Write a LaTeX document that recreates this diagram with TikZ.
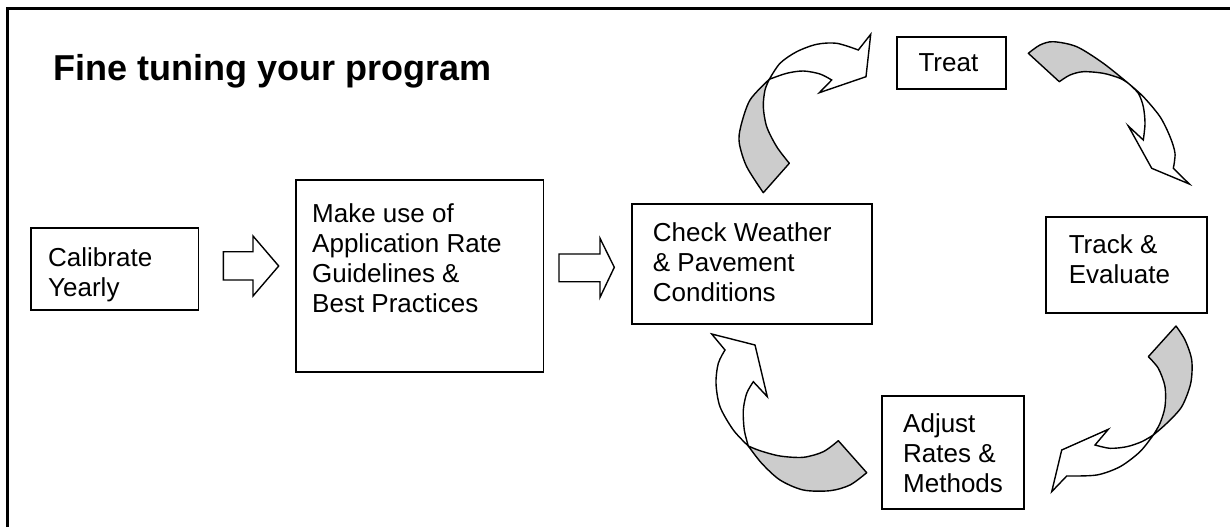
\documentclass[tikz,border=0pt]{standalone}
\usepackage{fontspec}
\setmainfont{Liberation Sans}
\definecolor{tailgray}{HTML}{CCCCCC}
\begin{document}
\begin{tikzpicture}[x=1pt,y=-1pt,
  box/.style={draw, line width=1.8pt, inner sep=0pt, fill=white},
  lbl/.style={anchor=north west, inner sep=0pt, align=left, font=\fontsize{26}{30}\selectfont},
  blk/.style={draw, line width=1.4pt, fill=white, line join=miter},
  tailpart/.style={draw, line width=1.4pt, fill=tailgray, line join=round},
  headpart/.style={draw, line width=1.4pt, fill=white, line join=miter}]
\useasboundingbox (0,0) rectangle (1230,527);
\fill[white] (0,0) rectangle (1230,527);
% frame (top and left edges visible)
\draw[line width=3.3pt, line join=miter] (7.7,527) -- (7.7,8.3) -- (1230,8.3);

% title
\node[anchor=base west, inner sep=0pt, font=\bfseries\fontsize{36}{43}\selectfont] (title) at (53.3,81) {Fine tuning your program};

% boxes
\node[box, minimum width=167.6pt, minimum height=81.7pt] (cal) at (114.6,269.15) {};
\node[box, minimum width=247.8pt, minimum height=191.7pt] (make) at (419.6,275.85) {};
\node[box, minimum width=240.3pt, minimum height=120pt] (check) at (751.85,264) {};
\node[box, minimum width=108.7pt, minimum height=52.6pt] (treat) at (951.65,63) {};
\node[box, minimum width=161pt, minimum height=96pt] (track) at (1126.5,264.6) {};
\node[box, minimum width=142.3pt, minimum height=113pt] (adjust) at (952.85,452.5) {};

% texts
\node[lbl] (calt) at (48,247.3) {Calibrate\\Yearly};
\node[lbl] (makt) at (312,203.3) {Make use of\\Application Rate\\Guidelines \&\\Best Practices};
\node[lbl] (chkt) at (652.7,222.7) {Check Weather\\\& Pavement\\Conditions};
\node[lbl] (trtt) at (918.3,53.3) {Treat};
\node[lbl] (trkt) at (1068.6,234.5) {Track \&\\Evaluate};
\node[lbl] (adjt) at (903,413.3) {Adjust\\Rates \&\\Methods};

% straight block arrows
\draw[blk] (223.3,251.7) -- (253,251.7) -- (253,236) -- (278.7,266) -- (253,296) -- (253,280) -- (223.3,280) -- cycle;
\draw[blk] (559,254) -- (600,254) -- (600,238.3) -- (614.3,267.3) -- (600,297.3) -- (600,281.7) -- (559,281.7) -- cycle;

% curved arrow A (check -> treat)
\draw[tailpart] plot[smooth] coordinates {(769.3,79.3) (750,100) (740.7,126.7) (739.3,143.3) (746.7,166.7) (763.3,192.7)} -- (789.3,163.3) -- plot[smooth] coordinates {(789.3,163.3) (776.7,146.7) (766.7,126.7) (763.3,106.7) (765,90) (769.3,79.3)} -- cycle;
\draw[headpart] plot[smooth] coordinates {(769.3,79.3) (780,63.3) (796.7,51.7) (816.7,44.3) (836.7,43.3) (858.3,50)} -- (870.7,34.3) -- (866,76.7) -- (819.3,92.7) -- (831.7,80) -- plot[smooth] coordinates {(831.7,80) (820,74) (803.3,71) (786.7,73.3) (769.3,79.3)} -- cycle;

% curved arrow B (treat -> track)
\draw[tailpart] plot[smooth] coordinates {(1128.3,83.3) (1103.3,63.3) (1076.7,46.7) (1053.3,41.7) (1040,45) (1028.3,53.3)} -- (1059.3,81.7) -- plot[smooth] coordinates {(1059.3,81.7) (1070,75) (1083.3,71.7) (1103.3,73.3) (1120,78.3) (1128.3,83.3)} -- cycle;
\draw[headpart] plot[smooth] coordinates {(1128.3,83.3) (1143.3,96.7) (1160,116.7) (1170,136.7) (1175,153.3) (1173.3,168.3)} -- (1189.3,184) -- (1151.7,168.3) -- (1128.3,126) -- (1143.3,140) -- plot[smooth] coordinates {(1143.3,140) (1145,123.3) (1143.3,106.7) (1138.3,93.3) (1128.3,83.3)} -- cycle;

% curved arrow C (track -> adjust)
\draw[tailpart] plot[smooth] coordinates {(1153.3,435) (1166.7,423.3) (1181.7,406.7) (1190.7,383.3) (1191.7,360) (1185,340) (1176,326)} -- (1148.3,356.7) -- plot[smooth] coordinates {(1148.3,356.7) (1158.3,368.3) (1165,386.7) (1165,406.7) (1160,423.3) (1153.3,435)} -- cycle;
\draw[headpart] plot[smooth] coordinates {(1153.3,435) (1140,451.7) (1120,466.7) (1096.7,475) (1066.7,476)} -- (1051.7,491.7) -- (1061.7,450) -- (1108.3,429.3) -- (1095,445) -- plot[smooth] coordinates {(1095,445) (1110,448.3) (1126.7,446.7) (1141.7,441.7) (1153.3,435)} -- cycle;

% curved arrow D (adjust -> check)
\draw[tailpart] plot[smooth] coordinates {(748.3,446) (761.7,463.3) (780,480) (803.3,490) (830,490.7) (850,485) (866.7,472.7)} -- (838.3,440.7) -- plot[smooth] coordinates {(838.3,440.7) (823.3,451.7) (803.3,457.3) (780,456) (760,450.7) (748.3,446)} -- cycle;
\draw[headpart] plot[smooth] coordinates {(748.3,446) (733.3,430) (720,406.7) (716,383.3) (718.3,363.3) (725,350)} -- (711.7,334) -- (755,345) -- (767.3,396.7) -- (753.3,381.7) -- plot[smooth] coordinates {(753.3,381.7) (746.7,393.3) (743.3,410) (744.3,430) (748.3,446)} -- cycle;
\end{tikzpicture}
\end{document}
